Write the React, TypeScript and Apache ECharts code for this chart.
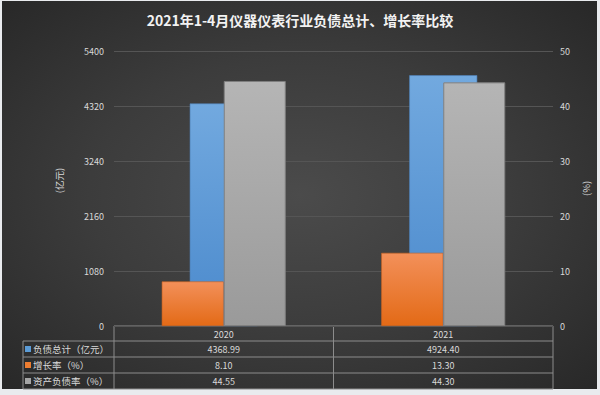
import React, { useEffect, useRef } from "react";
import * as echarts from "echarts";

const titleText = "2021年1-4月仪器仪表行业负债总计、增长率比较";
const categories = ["2020", "2021"];
const seriesNames = ["负债总计（亿元）", "增长率（%）", "资产负债率（%）"];
const debtTotal = [4368.99, 4924.4];
const growthRate = [8.1, 13.3];
const assetLiabilityRatio = [44.55, 44.3];
const leftAxis = { min: 0, max: 5400, interval: 1080, name: "(亿元)" };
const rightAxis = { min: 0, max: 50, interval: 10, name: "(%)" };

const FONT = "'Noto Sans CJK SC', 'Noto Sans', sans-serif";
const TEXT = "#d9d9d9";
const LINE = "#8c8c8c";
const colors = ["#5b9bd5", "#ed7d31", "#a5a5a5"];

const grad = (top: string, bottom: string) => ({
  type: "linear",
  x: 0,
  y: 0,
  x2: 0,
  y2: 1,
  colorStops: [
    { offset: 0, color: top },
    { offset: 1, color: bottom },
  ],
});

export default function App() {
  const ref = useRef<HTMLDivElement>(null);
  useEffect(() => {
    document.body.style.margin = "0";
    const chart = echarts.init(ref.current!, null, { renderer: "svg" });

    const gl = 114;
    const gr = 553;
    const gt = 51;
    const gb = 326;
    const labelLeft = 23;
    const rows = [326, 341, 357, 373, 389];
    const colW = (gr - gl) / categories.length;
    const values = [debtTotal, growthRate, assetLiabilityRatio];

    const graphics: any[] = [];
    graphics.push({ type: "line", shape: { x1: gl, y1: rows[0], x2: gr, y2: rows[0] }, style: { stroke: LINE, lineWidth: 1 } });
    for (let i = 1; i < rows.length; i++) {
      graphics.push({ type: "line", shape: { x1: labelLeft, y1: rows[i], x2: gr, y2: rows[i] }, style: { stroke: LINE, lineWidth: 1 } });
    }
    graphics.push({ type: "line", shape: { x1: labelLeft, y1: rows[1], x2: labelLeft, y2: rows[4] }, style: { stroke: LINE, lineWidth: 1 } });
    for (let c = 0; c <= categories.length; c++) {
      const x = gl + c * colW;
      graphics.push({ type: "line", shape: { x1: x, y1: rows[0], x2: x, y2: rows[4] }, style: { stroke: LINE, lineWidth: 1 } });
    }
    seriesNames.forEach((name, r) => {
      const yc = (rows[r + 1] + rows[r + 2]) / 2;
      graphics.push({ type: "rect", shape: { x: 25, y: yc - 3, width: 6, height: 6 }, style: { fill: colors[r] } });
      graphics.push({
        type: "text",
        x: 33,
        y: yc,
        style: { text: name, fill: TEXT, font: `9.5px ${FONT}`, align: "left", verticalAlign: "middle" },
      });
      categories.forEach((_, c) => {
        graphics.push({
          type: "text",
          x: gl + c * colW + colW / 2,
          y: yc,
          style: { text: values[r][c].toFixed(2), fill: TEXT, font: `9px ${FONT}`, align: "center", verticalAlign: "middle" },
        });
      });
    });

    chart.setOption({
      animation: false,
      backgroundColor: "transparent",
      title: {
        text: titleText,
        left: "center",
        top: 8,
        textStyle: { color: "#f2f2f2", fontSize: 14, fontWeight: "bold", fontFamily: FONT },
      },
      grid: { left: gl, right: 600 - gr, top: gt, bottom: 395 - gb },
      xAxis: [
        {
          type: "category",
          data: categories,
          axisLine: { show: false },
          axisTick: { show: false },
          axisLabel: { color: TEXT, fontSize: 9, fontFamily: FONT, margin: 4 },
        },
        { type: "category", data: categories, show: false },
      ],
      yAxis: [
        {
          type: "value",
          min: leftAxis.min,
          max: leftAxis.max,
          interval: leftAxis.interval,
          name: leftAxis.name,
          nameLocation: "middle",
          nameGap: 50,
          nameRotate: 90,
          nameTextStyle: { color: TEXT, fontSize: 9.5, fontFamily: FONT, padding: [0, 0, 0, 16] },
          axisLine: { show: false },
          axisTick: { show: false },
          axisLabel: { color: TEXT, fontSize: 9, fontFamily: FONT, margin: 10, formatter: (v: number) => String(v) },
          splitLine: { lineStyle: { color: "#555555", width: 1 } },
        },
        {
          type: "value",
          min: rightAxis.min,
          max: rightAxis.max,
          interval: rightAxis.interval,
          name: rightAxis.name,
          nameLocation: "middle",
          nameGap: 24,
          nameRotate: 90,
          nameTextStyle: { color: TEXT, fontSize: 9.5, fontFamily: FONT },
          axisLine: { show: false },
          axisTick: { show: false },
          axisLabel: { color: TEXT, fontSize: 9, fontFamily: FONT, margin: 7, formatter: (v: number) => String(v) },
          splitLine: { show: false },
        },
      ],
      series: [
        {
          name: seriesNames[0],
          type: "bar",
          xAxisIndex: 0,
          yAxisIndex: 0,
          data: debtTotal,
          barWidth: 68,
          itemStyle: { color: grad("#72a9df", "#4a89cc"), borderColor: "#4f82b8", borderWidth: 0.6 },
        },
        {
          name: seriesNames[1],
          type: "bar",
          xAxisIndex: 1,
          yAxisIndex: 1,
          data: growthRate,
          barWidth: 62,
          barGap: "0%",
          itemStyle: { color: grad("#f3905a", "#e36a16"), borderColor: "#c9621e", borderWidth: 0.6 },
        },
        {
          name: seriesNames[2],
          type: "bar",
          xAxisIndex: 1,
          yAxisIndex: 1,
          data: assetLiabilityRatio,
          barWidth: 62,
          barGap: "0%",
          itemStyle: { color: grad("#b5b5b5", "#9a9a9a"), borderColor: "#808080", borderWidth: 1 },
        },
      ],
      graphic: { elements: graphics },
    });
    return () => chart.dispose();
  }, []);

  return (
    <div style={{ position: "relative", width: 600, height: 395, background: "#e9ebee", overflow: "hidden" }}>
      <div
        style={{
          position: "absolute",
          left: 2,
          top: 1,
          width: 595,
          height: 388,
          background: "radial-gradient(ellipse at 50% 50%, #4b4b4b 0%, #3c3c3c 50%, #282828 100%)",
        }}
      />
      <div ref={ref} style={{ position: "absolute", left: 0, top: 0, width: 600, height: 395 }} />
    </div>
  );
}
